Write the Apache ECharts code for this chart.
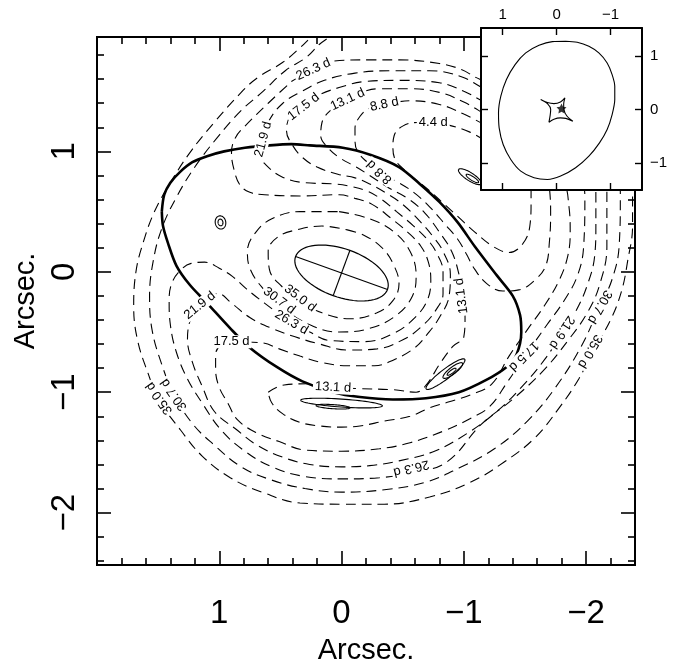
<!DOCTYPE html>
<html>
<head>
<meta charset="utf-8">
<script src="https://cdn.jsdelivr.net/npm/echarts@6/dist/echarts.min.js"></script>
<style>
html, body { margin: 0; padding: 0; background: #fff; }
#chart { width: 696px; height: 670px; }
</style>
</head>
<body>
<div id="chart"></div>
<script>
// axis ticks
const majorTicks = [1, 0, -1, -2];
const xMinorTicks = [1.8, 1.6, 1.4, 1.2, 0.8, 0.6, 0.4, 0.2, -0.2, -0.4, -0.6, -0.8, -1.2, -1.4, -1.6, -1.8, -2.2];
const yMinorTicks = [1.8, 1.6, 1.4, 1.2, 0.8, 0.6, 0.4, 0.2, -0.2, -0.4, -0.6, -0.8, -1.2, -1.4, -1.6, -1.8, -2.2, -2.4];
const insetTicks = [1, 0, -1];

// critical curve (thick)
const criticalCurve = [
  [1.47, 0.50], [1.45, 0.64], [1.40, 0.74], [1.32, 0.83], [1.22, 0.91], [1.10, 0.96], [0.96, 1.00],
  [0.79, 1.03], [0.59, 1.05], [0.41, 1.06], [0.26, 1.05], [-0.01, 1.03], [-0.24, 0.97], [-0.47, 0.87],
  [-0.64, 0.73], [-0.80, 0.58], [-0.95, 0.41], [-1.09, 0.21], [-1.27, -0.03], [-1.40, -0.20],
  [-1.46, -0.36], [-1.47, -0.50], [-1.43, -0.69], [-1.35, -0.79], [-1.18, -0.90], [-0.96, -1.00],
  [-0.69, -1.05], [-0.42, -1.06], [-0.15, -1.04], [0.07, -1.00], [0.32, -0.91], [0.53, -0.79],
  [0.75, -0.63], [0.91, -0.47], [1.10, -0.26], [1.24, -0.11], [1.35, 0.05], [1.42, 0.24], [1.46, 0.38],
  [1.47, 0.50]
];

// lens galaxy: [x, y, semi-major, semi-minor, angle deg]
const galaxy = [[0.0, -0.01, 0.40, 0.20, 20]];

// image contours (thin ellipses): [x, y, a, b, angle deg]
const imageRings = [
  [0.99, 0.41, 0.055, 0.043, 80], [0.99, 0.41, 0.028, 0.020, 80],
  [-1.05, 0.79, 0.11, 0.033, 33], [-1.07, 0.775, 0.06, 0.016, 33],
  [-0.85, -0.85, 0.20, 0.040, 142], [-0.91, -0.82, 0.10, 0.028, 142], [-0.90, -0.83, 0.045, 0.013, 142],
  [0.0, -1.09, 0.335, 0.033, 4], [0.07, -1.12, 0.14, 0.017, 4]
];

// time delay contours (dashed)
const delay4p4 = [
  [-1.17, 1.09], [-1.05, 1.16], [-0.87, 1.22], [-0.74, 1.24], [-0.62, 1.24], [-0.50, 1.21], [-0.43, 1.13],
  [-0.42, 1.03], [-0.44, 0.93], [-0.51, 0.85], [-0.60, 0.77], [-0.70, 0.69], [-0.82, 0.58], [-0.95, 0.46],
  [-1.09, 0.33], [-1.24, 0.21], [-1.37, 0.16], [-1.48, 0.23], [-1.54, 0.38], [-1.55, 0.58], [-1.55, 0.74],
  [-1.52, 0.95], [-1.37, 1.07], [-1.17, 1.09]
];
const delay8p8 = [
  [-1.17, 1.22], [-1.00, 1.31], [-0.80, 1.39], [-0.56, 1.42], [-0.45, 1.41], [-0.34, 1.39], [-0.23, 1.36],
  [-0.15, 1.29], [-0.11, 1.19], [-0.11, 1.09], [-0.13, 1.00], [-0.21, 0.91], [-0.31, 0.83], [-0.45, 0.75],
  [-0.59, 0.66], [-0.72, 0.54], [-0.85, 0.39], [-0.95, 0.27], [-1.02, 0.15], [-1.09, 0.02], [-1.19, -0.10],
  [-1.32, -0.16], [-1.45, -0.15], [-1.58, -0.07], [-1.67, 0.05], [-1.70, 0.25], [-1.71, 0.50], [-1.70, 0.70],
  [-1.66, 1.03], [-1.45, 1.18], [-1.17, 1.22]
];
const delay13p1 = [
  [0.60, -1.00], [0.47, -0.94], [0.26, -0.93], [0.07, -0.96], [-0.15, -0.97], [-0.43, -0.98], [-0.61, -1.00],
  [-0.70, -0.93], [-0.80, -0.77], [-0.91, -0.62], [-1.00, -0.54], [-1.01, -0.38], [-0.99, -0.20],
  [-0.96, -0.02], [-0.90, 0.17], [-0.80, 0.33], [-0.68, 0.49], [-0.54, 0.61], [-0.38, 0.70], [-0.23, 0.80],
  [-0.12, 0.87], [0.02, 0.95], [0.11, 1.03], [0.17, 1.13], [0.16, 1.24], [0.08, 1.35], [-0.05, 1.44],
  [-0.19, 1.50], [-0.31, 1.52], [-0.56, 1.52], [-0.80, 1.49], [-1.00, 1.41], [-1.17, 1.31], [-1.62, 1.03],
  [-1.82, 0.74], [-1.86, 0.54], [-1.87, 0.33], [-1.85, 0.13], [-1.78, -0.07], [-1.66, -0.28], [-1.52, -0.48],
  [-1.37, -0.70], [-1.23, -0.93], [-1.06, -1.02], [-0.88, -1.08], [-0.72, -1.13], [-0.56, -1.20],
  [-0.35, -1.24], [-0.15, -1.28], [0.0, -1.29], [0.18, -1.28], [0.34, -1.25], [0.48, -1.18], [0.57, -1.09],
  [0.60, -1.00]
];
const delay17p5 = [
  [0.90, -0.58], [0.65, -0.59], [0.51, -0.64], [0.34, -0.70], [0.18, -0.75], [-0.05, -0.78], [-0.27, -0.78],
  [-0.43, -0.73], [-0.60, -0.63], [-0.70, -0.52], [-0.80, -0.38], [-0.88, -0.20], [-0.89, -0.02],
  [-0.83, 0.17], [-0.75, 0.29], [-0.64, 0.42], [-0.50, 0.56], [-0.37, 0.65], [-0.23, 0.73], [-0.11, 0.78],
  [0.03, 0.81], [0.20, 0.87], [0.32, 0.95], [0.40, 1.05], [0.45, 1.17], [0.42, 1.29], [0.31, 1.37],
  [0.20, 1.46], [0.02, 1.53], [-0.19, 1.58], [-0.47, 1.59], [-0.80, 1.57], [-1.00, 1.50], [-1.17, 1.41],
  [-1.66, 1.19], [-1.94, 0.82], [-1.99, 0.62], [-1.98, 0.21], [-1.93, -0.03], [-1.82, -0.24], [-1.68, -0.44],
  [-1.50, -0.70], [-1.36, -0.91], [-1.21, -1.12], [-1.05, -1.22], [-0.84, -1.32], [-0.56, -1.42],
  [-0.31, -1.47], [0.0, -1.49], [0.30, -1.48], [0.51, -1.41], [0.69, -1.34], [0.85, -1.23], [0.93, -1.09],
  [1.00, -0.96], [1.03, -0.81], [1.03, -0.69], [0.98, -0.60], [0.90, -0.58]
];
const delay21p9 = [
  [0.69, 0.99], [0.65, 1.10], [0.59, 1.26], [0.48, 1.40], [0.34, 1.49], [0.14, 1.59], [-0.11, 1.65],
  [-0.39, 1.67], [-0.72, 1.67], [-0.98, 1.62], [-1.17, 1.52], [-1.66, 1.31], [-2.03, 0.91], [-2.08, 0.62],
  [-2.08, 0.38], [-2.07, 0.13], [-2.01, -0.11], [-1.92, -0.32], [-1.81, -0.50], [-1.66, -0.73],
  [-1.47, -0.96], [-1.27, -1.16], [-1.03, -1.34], [-0.76, -1.49], [-0.47, -1.57], [-0.23, -1.61],
  [0.0, -1.62], [0.26, -1.60], [0.48, -1.54], [0.69, -1.44], [0.86, -1.31], [1.04, -1.16], [1.14, -0.95],
  [1.22, -0.75], [1.26, -0.56], [1.23, -0.38], [1.16, -0.28], [1.08, -0.21], [1.01, -0.18], [0.90, -0.26],
  [0.75, -0.38], [0.57, -0.47], [0.38, -0.54], [0.18, -0.60], [-0.05, -0.65], [-0.29, -0.64], [-0.51, -0.56],
  [-0.66, -0.45], [-0.77, -0.32], [-0.83, -0.18], [-0.83, 0.0], [-0.77, 0.17], [-0.70, 0.27], [-0.59, 0.38],
  [-0.45, 0.50], [-0.33, 0.60], [-0.21, 0.67], [-0.07, 0.71], [0.06, 0.73], [0.30, 0.74], [0.49, 0.79],
  [0.63, 0.90], [0.69, 0.99]
];
const delay26p3 = [
  [0.41, 1.58], [0.24, 1.68], [0.07, 1.75], [-0.23, 1.76], [-0.47, 1.76], [-0.80, 1.73], [-0.98, 1.68],
  [-1.13, 1.60], [-1.62, 1.44], [-2.11, 1.03], [-2.17, 0.66], [-2.17, 0.21], [-2.11, -0.11], [-2.01, -0.34],
  [-1.86, -0.56], [-1.66, -0.81], [-1.41, -1.05], [-1.14, -1.27], [-0.86, -1.58], [-0.57, -1.67],
  [-0.31, -1.71], [0.0, -1.72], [0.30, -1.70], [0.57, -1.62], [0.79, -1.49], [0.98, -1.32], [1.14, -1.09],
  [1.26, -0.89], [1.35, -0.67], [1.40, -0.44], [1.41, -0.24], [1.39, -0.10], [1.32, 0.01], [1.23, 0.07],
  [1.12, 0.08], [1.00, 0.03], [0.89, -0.04], [0.78, -0.14], [0.63, -0.26], [0.41, -0.42], [0.26, -0.50],
  [0.10, -0.57], [-0.19, -0.58], [-0.43, -0.51], [-0.60, -0.38], [-0.70, -0.24], [-0.73, -0.07],
  [-0.71, 0.08], [-0.65, 0.21], [-0.54, 0.33], [-0.41, 0.44], [-0.25, 0.56], [-0.11, 0.61], [0.02, 0.64],
  [0.34, 0.63], [0.63, 0.64], [0.75, 0.66], [0.83, 0.72], [0.88, 0.85], [0.90, 0.99], [0.87, 1.11],
  [0.79, 1.21], [0.60, 1.40], [0.41, 1.58]
];
const delay30p7 = [
  [0.02, 2.02], [0.10, 1.95], [0.18, 1.89], [0.29, 1.78], [0.46, 1.67], [0.64, 1.50], [0.82, 1.34],
  [1.02, 1.11], [1.20, 0.87], [1.35, 0.62], [1.47, 0.36], [1.54, 0.09], [1.57, -0.20], [1.55, -0.48],
  [1.47, -0.77], [1.37, -1.02], [1.22, -1.26], [1.04, -1.44], [0.82, -1.62], [0.57, -1.73], [0.30, -1.80],
  [0.0, -1.83], [-0.35, -1.81], [-0.68, -1.75], [-0.96, -1.63], [-1.25, -1.47], [-1.52, -1.24],
  [-1.75, -0.96], [-1.96, -0.62], [-2.11, -0.29], [-2.21, -0.07], [-2.27, 0.21], [-2.28, 0.62],
  [-2.27, 1.03], [-2.11, 1.52], [-1.78, 1.84], [-1.13, 2.01], [-0.47, 2.05], [0.02, 2.02]
];
const delay35p0 = [
  [0.18, 2.02], [0.25, 1.95], [0.34, 1.86], [0.48, 1.74], [0.69, 1.61], [0.83, 1.48], [1.05, 1.23],
  [1.24, 0.99], [1.40, 0.74], [1.53, 0.50], [1.62, 0.25], [1.68, 0.01], [1.70, -0.28], [1.67, -0.56],
  [1.58, -0.85], [1.49, -1.07], [1.32, -1.31], [1.14, -1.53], [0.91, -1.71], [0.65, -1.83], [0.34, -1.92],
  [0.0, -1.93], [-0.35, -1.93], [-0.72, -1.87], [-1.05, -1.75], [-1.33, -1.58], [-1.58, -1.38],
  [-1.78, -1.13], [-1.94, -0.89], [-2.05, -0.67], [-2.20, -0.40], [-2.29, -0.16], [-2.34, 0.09],
  [-2.38, 0.38], [-2.38, 0.70], [-2.35, 1.11], [-2.19, 1.60], [-1.86, 1.93], [-1.29, 2.09], [-0.47, 2.09],
  [0.18, 2.02]
];
const inner35p0 = [
  [-0.04, 0.35], [-0.19, 0.30], [-0.33, 0.20], [-0.42, 0.07], [-0.47, -0.10], [-0.42, -0.24], [-0.29, -0.34],
  [-0.07, -0.39], [0.16, -0.34], [0.34, -0.24], [0.49, -0.12], [0.59, 0.02], [0.60, 0.17], [0.52, 0.29],
  [0.36, 0.35], [0.16, 0.38], [-0.04, 0.35]
];
const inner30p7 = [
  [0.02, 0.50], [-0.23, 0.44], [-0.43, 0.33], [-0.56, 0.17], [-0.61, -0.03], [-0.58, -0.20], [-0.45, -0.36],
  [-0.23, -0.47], [0.02, -0.50], [0.26, -0.44], [0.49, -0.29], [0.65, -0.13], [0.75, 0.03], [0.77, 0.17],
  [0.70, 0.33], [0.57, 0.44], [0.34, 0.50], [0.02, 0.50]
];
const contourLines = [delay4p4, delay8p8, delay13p1, delay17p5, delay21p9,
  delay26p3, delay30p7, delay35p0, inner35p0, inner30p7];

// contour labels: [text, x, y, rotation deg]
const contourLabels = [
  ['26.3 d', 0.23, 1.68, 24], ['17.5 d', 0.31, 1.37, 38], ['13.1 d', -0.05, 1.43, 25],
  ['8.8 d', -0.35, 1.39, 12], ['4.4 d', -0.75, 1.24, 0], ['21.9 d', 0.64, 1.10, 75],
  ['8.8 d', -0.31, 0.83, 137], ['35.0 d', 0.34, -0.22, -37], ['30.7 d', 0.51, -0.24, -37],
  ['26.3 d', 0.41, -0.42, -30], ['21.9 d', 1.16, -0.28, 39], ['17.5 d', 0.90, -0.58, 0],
  ['13.1 d', 0.07, -0.96, -3], ['35.0 d', 1.49, -1.05, 125], ['30.7 d', 1.37, -1.02, 125],
  ['17.5 d', -1.49, -0.70, 225], ['21.9 d', -1.80, -0.50, 237], ['30.7 d', -2.11, -0.29, 240],
  ['35.0 d', -2.03, -0.66, 240], ['26.3 d', -0.57, -1.63, 194], ['13.1 d', -0.98, -0.20, 98]
];

// inset: source plane
const insetOval = [
  [-0.166, 1.272], [-0.381, 1.254], [-0.597, 1.179], [-0.781, 1.055], [-0.935, 0.869], [-1.027, 0.652],
  [-1.076, 0.434], [-1.076, 0.186], [-1.027, -0.093], [-0.935, -0.372], [-0.793, -0.621], [-0.597, -0.869],
  [-0.351, -1.086], [-0.074, -1.241], [0.172, -1.304], [0.418, -1.272], [0.664, -1.148], [0.849, -0.931],
  [0.990, -0.652], [1.064, -0.341], [1.076, -0.062], [1.033, 0.248], [0.929, 0.559], [0.769, 0.838],
  [0.572, 1.055], [0.326, 1.198], [0.080, 1.266], [-0.166, 1.272]
];
const insetCaustic = [
  [0.295, 0.186], [0.17, 0.13], [0.05, 0.11], [-0.07, 0.14], [-0.153, 0.218],
  [-0.13, 0.10], [-0.135, 0.0], [-0.19, -0.12], [-0.30, -0.218],
  [-0.17, -0.165], [-0.07, -0.155], [0.05, -0.18], [0.142, -0.236],
  [0.12, -0.11], [0.11, 0.0], [0.17, 0.11], [0.295, 0.186]
];
const sourcePos = [[-0.09, 0.02]];

const FONT = 'Liberation Sans, Arial, sans-serif';
const minus = v => (v < 0 ? '\u2212' + (-v) : String(v));

function ellipsePoints(api, cx, cy, a, b, angDeg) {
  const ang = angDeg * Math.PI / 180;
  const pts = [];
  for (let i = 0; i <= 72; i++) {
    const t = i / 72 * 2 * Math.PI;
    const x = cx + a * Math.cos(t) * Math.cos(ang) - b * Math.sin(t) * Math.sin(ang);
    const y = cy + a * Math.cos(t) * Math.sin(ang) + b * Math.sin(t) * Math.cos(ang);
    pts.push(api.coord([x, y]));
  }
  return pts;
}

function mainAxis(pos, ticks, len, label) {
  const isX = pos === 'bottom' || pos === 'top';
  const ax = {
    gridIndex: 0, type: 'value', position: pos, z: 1,
    min: isX ? -2.4 : -2.435, max: isX ? 2.0 : 1.95, inverse: isX,
    axisLine: { onZero: false, lineStyle: { color: '#000', width: 2 } },
    axisTick: { inside: true, length: len, customValues: ticks, lineStyle: { color: '#000', width: 1.6 } },
    axisLabel: { show: false },
    splitLine: { show: false }
  };
  if (label) {
    ax.axisLabel = {
      show: true, customValues: majorTicks, formatter: minus, color: '#000',
      fontFamily: FONT, fontSize: 33, margin: isX ? 32 : 16, rotate: isX ? 0 : 90
    };
    ax.name = 'Arcsec.';
    ax.nameLocation = 'middle';
    ax.nameGap = isX ? 71 : 52;
    ax.nameRotate = isX ? 0 : 90;
    ax.nameTextStyle = { fontFamily: FONT, fontSize: 29, color: '#000' };
  }
  return ax;
}

function insetAxis(pos, label) {
  const isX = pos === 'bottom' || pos === 'top';
  return {
    gridIndex: 1, type: 'value', position: pos, z: 12,
    min: isX ? -1.58 : -1.50, max: isX ? 1.40 : 1.52, inverse: isX,
    axisLine: { onZero: false, lineStyle: { color: '#000', width: 2 } },
    axisTick: { inside: true, length: 7, customValues: insetTicks, lineStyle: { color: '#000', width: 1.4 } },
    axisLabel: label ? { show: true, customValues: insetTicks, formatter: minus, color: '#000',
      fontFamily: FONT, fontSize: 15, margin: isX ? 6 : 8 } : { show: false },
    splitLine: { show: false }
  };
}

const series = [];

series.push({
  type: 'line', xAxisIndex: 0, yAxisIndex: 0, data: criticalCurve, smooth: 0.3,
  showSymbol: false, symbol: 'none', z: 4,
  lineStyle: { color: '#000', width: 2.6 }
});

contourLines.forEach(c => series.push({
  type: 'line', xAxisIndex: 0, yAxisIndex: 0, data: c, smooth: 0.4,
  showSymbol: false, symbol: 'none', z: 3,
  lineStyle: { color: '#000', width: 1.1, type: [10, 6] }
}));

series.push({
  type: 'custom', xAxisIndex: 0, yAxisIndex: 0, data: galaxy, z: 4,
  renderItem: (params, api) => {
    const cx = api.value(0), cy = api.value(1), a = api.value(2), b = api.value(3);
    const ang = api.value(4) * Math.PI / 180;
    const c = Math.cos(ang), s = Math.sin(ang);
    const st = { stroke: '#000', lineWidth: 1.2, fill: null };
    return {
      type: 'group', children: [
        { type: 'polyline', shape: { points: ellipsePoints(api, cx, cy, a, b, api.value(4)) }, style: st },
        { type: 'polyline', shape: { points: [api.coord([cx + a * c, cy + a * s]), api.coord([cx - a * c, cy - a * s])] }, style: st },
        { type: 'polyline', shape: { points: [api.coord([cx - b * s, cy + b * c]), api.coord([cx + b * s, cy - b * c])] }, style: st }
      ]
    };
  }
});

series.push({
  type: 'custom', xAxisIndex: 0, yAxisIndex: 0, data: imageRings, z: 4,
  renderItem: (params, api) => ({
    type: 'polyline',
    shape: { points: ellipsePoints(api, api.value(0), api.value(1), api.value(2), api.value(3), api.value(4)) },
    style: { stroke: '#000', lineWidth: 1.1, fill: null }
  })
});

series.push({
  type: 'custom', xAxisIndex: 0, yAxisIndex: 0, z: 6,
  data: contourLabels.map(l => [l[1], l[2]]),
  renderItem: (params, api) => {
    const l = contourLabels[params.dataIndex];
    const p = api.coord([api.value(0), api.value(1)]);
    return {
      type: 'text', x: p[0], y: p[1], rotation: l[3] * Math.PI / 180,
      style: { text: l[0], fontFamily: FONT, fontSize: 13, fill: '#000', align: 'center',
        verticalAlign: 'middle', backgroundColor: '#fff', padding: [0, 2] }
    };
  }
});

// inset
series.push({
  type: 'custom', xAxisIndex: 4, yAxisIndex: 4, data: [[0, 0]], z: 10,
  renderItem: (params) => ({
    type: 'rect',
    shape: { x: params.coordSys.x, y: params.coordSys.y, width: params.coordSys.width, height: params.coordSys.height },
    style: { fill: '#fff' }
  })
});
series.push({
  type: 'line', xAxisIndex: 4, yAxisIndex: 4, data: insetOval, smooth: 0.3,
  showSymbol: false, symbol: 'none', z: 11, lineStyle: { color: '#000', width: 1.1 }
});
series.push({
  type: 'line', xAxisIndex: 4, yAxisIndex: 4, data: insetCaustic, smooth: 0.3,
  showSymbol: false, symbol: 'none', z: 11, lineStyle: { color: '#000', width: 1.1 }
});
series.push({
  type: 'scatter', xAxisIndex: 4, yAxisIndex: 4, data: sourcePos, z: 12,
  symbol: 'path://M0,-10L2.9,-4L9.5,-3.1L4.8,1.5L5.9,8.1L0,5L-5.9,8.1L-4.8,1.5L-9.5,-3.1L-2.9,-4Z',
  symbolSize: 10, itemStyle: { color: '#000' }
});

const option = {
  animation: false,
  backgroundColor: '#fff',
  grid: [
    { left: 97, top: 37, width: 538, height: 537, containLabel: false },
    { left: 481, top: 28, width: 161, height: 162, containLabel: false }
  ],
  xAxis: [
    mainAxis('bottom', majorTicks, 14, true), mainAxis('bottom', xMinorTicks, 7, false),
    mainAxis('top', majorTicks, 14, false), mainAxis('top', xMinorTicks, 7, false),
    insetAxis('top', true), insetAxis('bottom', false)
  ],
  yAxis: [
    mainAxis('left', majorTicks, 14, true), mainAxis('left', yMinorTicks, 7, false),
    mainAxis('right', majorTicks, 14, false), mainAxis('right', yMinorTicks, 7, false),
    insetAxis('right', true), insetAxis('left', false)
  ],
  series: series
};

const chart = echarts.init(document.getElementById('chart'));
chart.setOption(option);
</script>
</body>
</html>
